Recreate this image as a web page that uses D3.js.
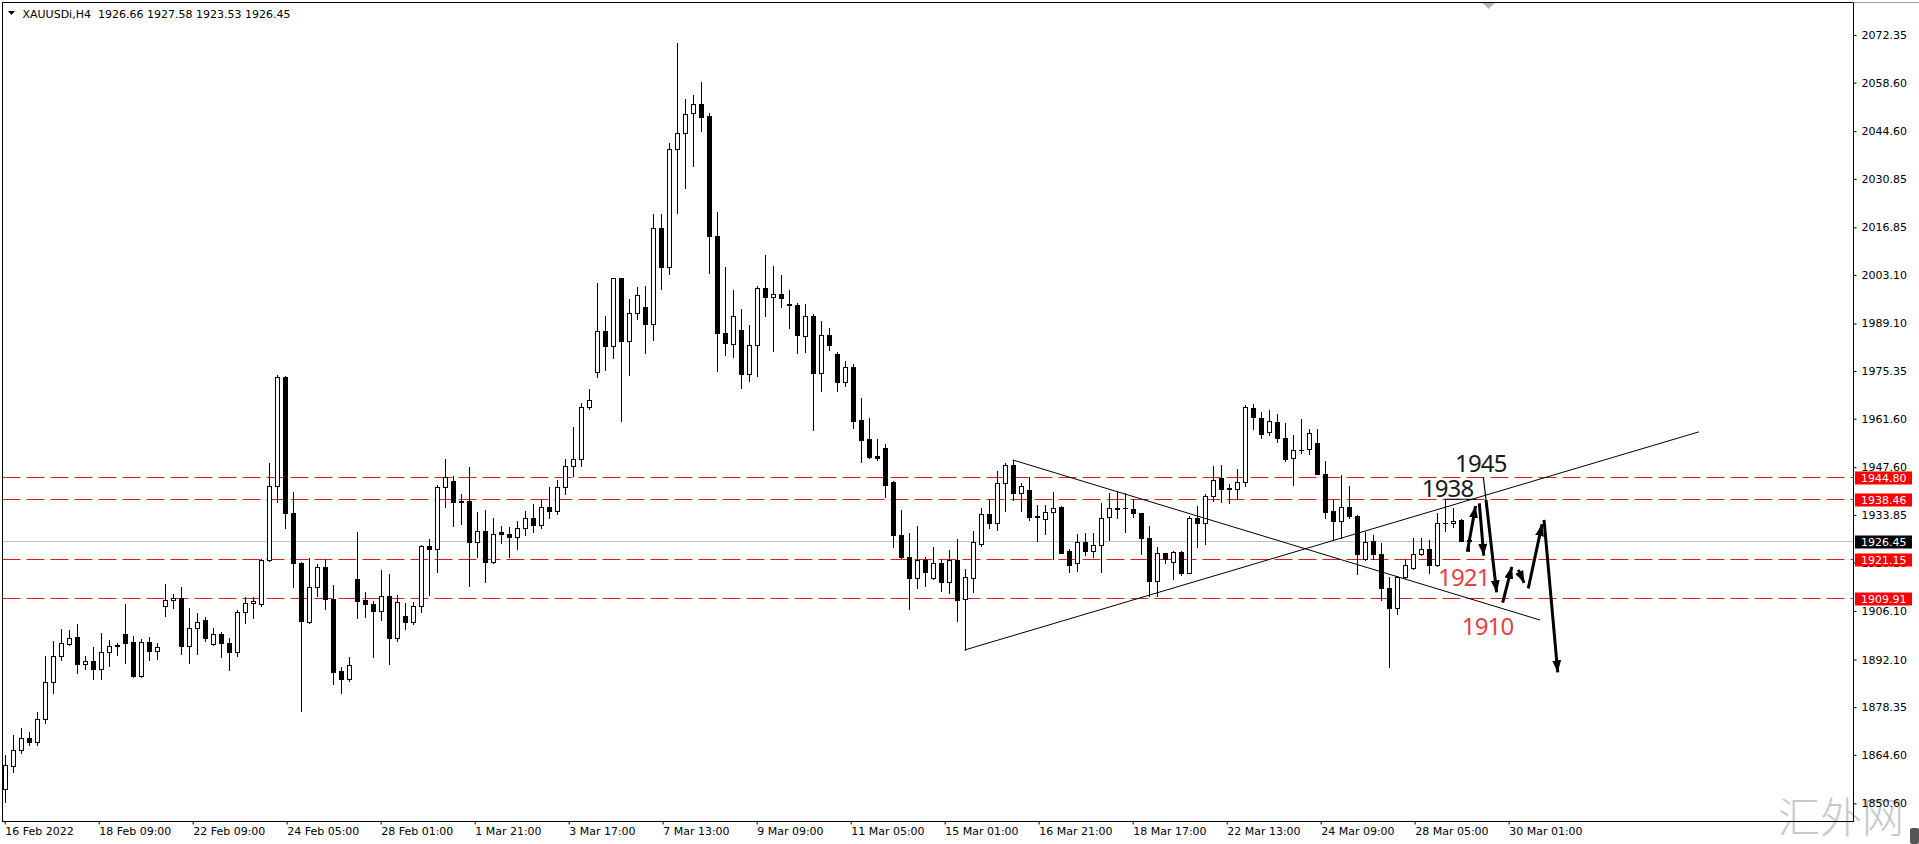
<!DOCTYPE html>
<html><head><meta charset="utf-8">
<script src="https://cdn.jsdelivr.net/npm/d3@7"></script>
<style>
html,body{margin:0;padding:0;background:#fff;overflow:hidden}
svg{display:block}
</style></head>
<body>
<svg id="chart" width="1919" height="844"></svg>
<script>
// ---------------- DATA ----------------
const symbolTitle = "XAUUSDi,H4";
const titleValues = [1926.66, 1927.58, 1923.53, 1926.45];

const barOpen = [1854.6,1861.5,1866.0,1869.4,1868.4,1874.8,1885.7,1893.1,1896.6,1898.7,
1890.7,1891.7,1889.3,1894.2,1896.3,1899.4,1897.1,1887.4,1897.1,1894.7,
1907.6,1909.3,1909.8,1896.1,1901.1,1903.5,1896.6,1899.4,1896.8,1894.4,
1905.9,1908.3,1908.0,1920.8,1942.1,1973.5,1934.3,1919.9,1902.8,1912.9,
1918.7,1909.7,1888.8,1886.4,1915.3,1909.3,1908.1,1906.2,1910.4,1898.4,
1904.7,1903.0,1907.5,1925.0,1923.9,1941.8,1943.6,1937.8,1937.8,1926.1,
1929.2,1920.2,1929.0,1928.3,1927.4,1930.0,1933.0,1931.0,1936.0,1935.0,
1942.0,1948.0,1950.0,1964.9,1975.2,1986.9,1982.7,2002.1,1984.1,1992.0,
1993.8,1988.8,2016.6,2005.5,2039.4,2044.0,2049.7,2052.4,2049.0,2014.3,
1986.2,1983.1,1987.2,1974.4,1982.9,1999.2,1996.6,1997.5,1994.6,1994.4,
1985.6,1991.3,1974.9,1985.8,1980.3,1972.3,1976.6,1961.2,1955.8,1950.7,
1953.1,1943.2,1927.9,1921.6,1915.7,1920.8,1915.7,1920.1,1914.6,1920.8,
1909.5,1915.7,1925.4,1934.0,1931.6,1943.0,1948.2,1940.3,1941.0,1933.4,
1932.6,1934.6,1936.2,1923.5,1919.9,1925.9,1923.5,1925.2,1933.1,1935.8,
1935.7,1935.5,1934.3,1927.1,1914.9,1922.7,1920.2,1923.0,1917.2,1933.0,
1931.6,1939.3,1944.6,1941.5,1941.2,1943.4,1964.6,1961.7,1957.9,1960.6,
1955.9,1950.2,1952.6,1952.8,1954.5,1945.5,1934.9,1932.1,1936.0,1933.5,
1921.1,1926.3,1922.6,1912.6,1906.9,1916.0,1918.4,1922.6,1923.9,1919.4,
1931.6,1931.4,1932.4,1926.66];
const barHigh = [1864.5,1870.3,1872.2,1871.3,1876.9,1893.1,1897.4,1900.8,1900.6,1902.3,
1893.1,1895.8,1899.7,1897.7,1897.0,1908.1,1898.9,1897.9,1898.5,1896.8,
1913.8,1910.9,1912.9,1906.9,1905.4,1904.5,1901.3,1900.1,1898.2,1906.4,
1910.2,1910.0,1921.0,1948.7,1974.2,1974.0,1940.4,1920.2,1921.3,1919.6,
1921.0,1913.6,1890.0,1892.7,1929.0,1911.7,1909.1,1917.9,1916.8,1910.7,
1908.3,1908.8,1925.2,1926.8,1942.5,1949.9,1945.2,1939.9,1947.8,1934.8,
1935.3,1933.0,1930.6,1930.4,1932.0,1935.0,1937.0,1938.0,1942.0,1944.0,
1950.0,1959.3,1966.2,1970.1,2000.7,1991.3,2002.1,2002.1,1996.1,1999.5,
1999.9,2020.7,2020.7,2041.1,2070.1,2053.9,2055.0,2058.9,2049.7,2021.4,
2005.3,1998.8,1993.2,1988.7,1999.9,2008.9,2005.8,2003.1,1998.8,1994.9,
1994.7,1991.8,1989.9,1987.7,1980.8,1978.3,1977.4,1967.5,1961.7,1955.8,
1954.3,1943.7,1935.3,1928.5,1930.6,1921.6,1924.7,1920.8,1923.7,1926.9,
1918.1,1929.2,1935.7,1938.2,1946.6,1948.9,1949.7,1943.0,1944.9,1936.7,
1936.7,1940.4,1936.4,1924.0,1928.3,1928.5,1928.5,1937.2,1940.1,1940.4,
1940.1,1938.4,1934.3,1930.6,1924.7,1922.7,1923.5,1923.5,1933.5,1936.4,
1939.9,1948.0,1948.2,1942.8,1947.0,1965.6,1965.8,1963.4,1964.1,1962.9,
1960.3,1956.9,1961.4,1958.5,1958.5,1949.4,1938.1,1945.4,1942.2,1933.8,
1929.0,1927.9,1925.6,1916.0,1916.2,1921.0,1927.1,1927.1,1926.6,1934.5,
1938.3,1935.7,1932.6,1927.58];
const barLow = [1851.1,1859.7,1865.0,1867.4,1867.4,1873.7,1882.3,1891.9,1896.3,1888.1,
1889.3,1886.4,1886.4,1890.2,1893.4,1891.2,1887.1,1887.1,1892.0,1892.2,
1904.8,1906.9,1893.6,1891.0,1893.6,1897.3,1896.3,1892.9,1889.1,1893.1,
1902.7,1904.2,1907.5,1920.5,1937.6,1930.2,1913.1,1877.3,1902.5,1910.5,
1906.7,1884.9,1882.5,1886.0,1904.0,1904.3,1892.9,1903.5,1890.7,1897.5,
1900.9,1902.3,1905.9,1910.7,1917.5,1936.2,1930.6,1931.2,1913.3,1921.6,
1914.6,1919.9,1925.8,1921.8,1924.0,1928.0,1929.0,1930.0,1933.0,1934.0,
1940.0,1945.0,1948.0,1964.3,1973.7,1975.7,1979.0,1960.8,1974.2,1990.5,
1980.7,1984.3,1999.0,2003.3,2020.9,2028.3,2034.6,2044.5,2003.8,1975.5,
1980.0,1979.3,1970.4,1972.6,1973.9,1991.3,1981.2,1993.7,1987.7,1980.7,
1981.0,1958.2,1969.7,1981.4,1969.7,1970.9,1959.0,1949.2,1950.2,1949.7,
1939.1,1924.5,1921.3,1906.7,1912.7,1913.4,1915.3,1912.0,1911.2,1903.3,
1894.9,1911.5,1924.9,1930.0,1929.5,1935.0,1938.1,1935.1,1932.4,1926.3,
1928.2,1921.1,1922.9,1917.5,1917.7,1922.3,1921.6,1917.5,1926.6,1932.9,
1929.0,1933.1,1922.6,1910.4,1910.4,1920.1,1915.3,1916.5,1917.2,1924.7,
1925.4,1937.9,1937.7,1937.2,1938.4,1942.2,1958.5,1955.9,1956.9,1955.0,
1949.4,1942.5,1951.8,1951.4,1945.5,1932.9,1926.6,1927.1,1932.9,1916.8,
1920.8,1921.0,1909.3,1889.9,1905.1,1915.5,1918.1,1922.3,1917.0,1919.1,
1929.3,1930.3,1926.2,1923.53];
const barClose = [1861.7,1866.0,1869.4,1868.4,1874.8,1885.7,1893.1,1896.8,1898.2,1890.7,
1891.7,1889.3,1894.2,1896.0,1895.9,1897.0,1887.4,1897.1,1894.7,1895.8,
1909.3,1909.8,1896.1,1901.1,1903.0,1898.2,1899.4,1896.8,1894.4,1905.9,
1908.3,1909.0,1920.8,1942.1,1973.5,1934.3,1919.9,1903.3,1912.9,1918.7,
1909.7,1888.6,1886.4,1890.5,1909.1,1908.1,1906.2,1910.4,1898.4,1908.6,
1903.0,1907.5,1925.0,1923.9,1941.8,1944.7,1937.7,1937.6,1926.1,1929.2,
1920.2,1928.3,1928.2,1927.4,1930.0,1933.0,1931.0,1936.0,1935.0,1942.0,
1948.0,1950.0,1964.9,1967.0,1986.9,1982.7,2002.1,1984.1,1992.0,1997.2,
1988.8,2016.6,2005.5,2039.4,2044.0,2049.5,2052.4,2048.8,2014.4,1986.2,
1983.4,1991.3,1974.4,1982.9,1999.2,1996.8,1997.5,1996.4,1994.3,1985.8,
1991.3,1974.7,1985.8,1982.9,1972.3,1976.6,1961.0,1955.5,1950.5,1950.4,
1942.5,1927.9,1921.6,1915.7,1920.8,1917.3,1920.1,1914.6,1920.8,1909.3,
1915.8,1925.9,1934.0,1931.6,1943.0,1948.2,1940.3,1942.2,1933.3,1933.2,
1934.6,1935.7,1922.9,1919.4,1925.9,1923.5,1925.2,1932.9,1935.7,1935.6,
1935.8,1934.3,1927.1,1914.9,1922.7,1921.1,1923.0,1917.0,1933.0,1931.4,
1939.3,1943.9,1941.2,1941.4,1943.4,1964.9,1962.0,1957.2,1960.8,1955.9,
1950.0,1952.6,1952.5,1957.6,1945.5,1934.6,1932.1,1936.0,1933.5,1922.6,
1926.1,1922.6,1912.6,1906.9,1916.0,1919.4,1922.6,1923.9,1919.4,1931.4,
1931.4,1932.2,1926.4,1926.45];

const timeLabels = ["16 Feb 2022","18 Feb 09:00","22 Feb 09:00","24 Feb 05:00","28 Feb 01:00",
"1 Mar 21:00","3 Mar 17:00","7 Mar 13:00","9 Mar 09:00","11 Mar 05:00","15 Mar 01:00",
"16 Mar 21:00","18 Mar 17:00","22 Mar 13:00","24 Mar 09:00","28 Mar 05:00","30 Mar 01:00"];
const barsPerTimeLabel = 11.75;

const priceTicks = [2072.35,2058.60,2044.60,2030.85,2016.85,2003.10,1989.10,1975.35,1961.60,
1947.60,1933.85,1920.10,1906.10,1892.10,1878.35,1864.60,1850.60];

const levelPrices = [1944.80, 1938.46, 1921.15, 1909.91];
const lastPrice = 1926.45;

// trendlines: [barIndex, price] pairs
const trendStart = [[126, 1949.7], [120, 1894.85]];
const trendEnd   = [[191.92, 1903.5], [211.77, 1957.8]];

// forecast arrows: [barIndex, price]
const arrowFrom = [[182.83,1923.22],[184.33,1937.18],[185.17,1938.14],[187.25,1908.5],[189.2,1917.94],[190.45,1912.65],[192.42,1932.37]];
const arrowTo   = [[184.0,1938.14],[184.95,1920.33],[186.58,1909.77],[188.58,1920.53],[190.25,1912.65],[192.33,1932.86],[194.2,1886.68]];
const thinFrom = [[184.83,1944.78],[180,1938.35]];
const thinTo   = [[185.17,1938.14],[184,1938.35]];

const noteText = ["1945","1938","1921","1910"];
const notePoint = [[181.29,1946.22],[177.13,1939.0],[179.17,1913.3],[182.13,1899.2]];
const noteIsRed = [false,false,true,true];

const watermarkText = "汇外网";

// ---------------- CHART ----------------
const W = 1919, H = 844;
const L = 2.5, T = 2.5, R = 1853.5, B = 821.5;
const svg = d3.select("#chart");
const FONT = "'DejaVu Sans', Verdana, sans-serif";

const x = d3.scaleLinear().domain([0, 230]).range([4.67, 1844.67]);
const y = d3.scaleLinear().domain([2072.35, 1850.60]).range([35, 803.3]);

svg.append("rect").attr("width", W).attr("height", H).attr("fill", "#fff");

// watermark (behind everything)
svg.append("text").attr("x", 1778).attr("y", 833).attr("font-family", "'Noto Sans CJK SC', sans-serif")
  .attr("font-weight", 300).attr("font-size", 42).attr("fill", "#c8c8c8").text(watermarkText);

const defs = svg.append("defs");
defs.append("clipPath").attr("id", "plotClip").append("rect")
  .attr("x", L).attr("y", T).attr("width", R - L).attr("height", B - T);
defs.append("marker").attr("id", "head").attr("markerUnits", "userSpaceOnUse")
  .attr("viewBox", "0 0 12 9").attr("refX", 12).attr("refY", 4.5)
  .attr("markerWidth", 12).attr("markerHeight", 9).attr("orient", "auto")
  .append("path").attr("d", "M0,0 L12,4.5 L0,9 Z").attr("fill", "#000");

const plot = svg.append("g").attr("clip-path", "url(#plotClip)");

// current price line
plot.append("line").attr("x1", L).attr("x2", R)
  .attr("y1", Math.round(y(lastPrice)) + 0.5).attr("y2", Math.round(y(lastPrice)) + 0.5)
  .attr("stroke", "#c0c0c0").attr("stroke-width", 1);

// horizontal levels
plot.append("g").selectAll("line").data(levelPrices).join("line")
  .attr("x1", L).attr("x2", R)
  .attr("y1", d => Math.round(y(d)) + 0.5).attr("y2", d => Math.round(y(d)) + 0.5)
  .attr("stroke", "#d81e1e").attr("stroke-width", 1).attr("stroke-dasharray", "18,6");

// candles
const bars = barOpen.map((o, i) => ({ i, o, h: barHigh[i], l: barLow[i], c: barClose[i] }));
const cg = plot.append("g").attr("shape-rendering", "crispEdges");
cg.selectAll("line.wick").data(bars).join("line").attr("class", "wick")
  .attr("x1", d => Math.round(x(d.i)) + 0.5).attr("x2", d => Math.round(x(d.i)) + 0.5)
  .attr("y1", d => Math.round(y(d.h))).attr("y2", d => Math.round(y(d.l)) + 1)
  .attr("stroke", "#000");
const bodyTop = d => Math.round(y(Math.max(d.o, d.c)));
const bodyBot = d => Math.round(y(Math.min(d.o, d.c)));
cg.selectAll("rect.body").data(bars.filter(d => bodyBot(d) - bodyTop(d) >= 1)).join("rect").attr("class", "body")
  .attr("x", d => Math.round(x(d.i)) - 1.5).attr("width", 4)
  .attr("y", d => bodyTop(d) + 0.5).attr("height", d => bodyBot(d) - bodyTop(d))
  .attr("fill", d => d.c >= d.o ? "#fff" : "#000").attr("stroke", "#000");
cg.selectAll("line.doji").data(bars.filter(d => bodyBot(d) - bodyTop(d) < 1)).join("line").attr("class", "doji")
  .attr("x1", d => Math.round(x(d.i)) - 2).attr("x2", d => Math.round(x(d.i)) + 3)
  .attr("y1", d => bodyTop(d) + 0.5).attr("y2", d => bodyTop(d) + 0.5)
  .attr("stroke", "#000");

// trendlines
plot.append("g").selectAll("line").data(trendStart).join("line")
  .attr("x1", d => x(d[0])).attr("y1", d => y(d[1]))
  .attr("x2", (d, i) => x(trendEnd[i][0])).attr("y2", (d, i) => y(trendEnd[i][1]))
  .attr("stroke", "#000").attr("stroke-width", 1);

// thin connectors
plot.append("g").selectAll("line").data(thinFrom).join("line")
  .attr("x1", d => x(d[0])).attr("y1", d => y(d[1]))
  .attr("x2", (d, i) => x(thinTo[i][0])).attr("y2", (d, i) => y(thinTo[i][1]))
  .attr("stroke", "#000").attr("stroke-width", 1.2);

// arrows
const shorten = (i, k) => {
  const x1 = x(arrowFrom[i][0]), y1 = y(arrowFrom[i][1]), x2 = x(arrowTo[i][0]), y2 = y(arrowTo[i][1]);
  const len = Math.hypot(x2 - x1, y2 - y1);
  return k === 0 ? x2 - (x2 - x1) / len * 6 : y2 - (y2 - y1) / len * 6;
};
plot.append("g").selectAll("line").data(arrowFrom).join("line")
  .attr("x1", d => x(d[0])).attr("y1", d => y(d[1]))
  .attr("x2", (d, i) => shorten(i, 0)).attr("y2", (d, i) => shorten(i, 1))
  .attr("stroke", "#000").attr("stroke-width", 3).attr("marker-end", "url(#head)");

// notes
plot.append("g").selectAll("text").data(noteText).join("text")
  .attr("x", (d, i) => x(notePoint[i][0])).attr("y", (d, i) => y(notePoint[i][1]))
  .attr("font-family", "'Noto Sans', 'Open Sans', sans-serif").attr("font-size", 24)
  .attr("letter-spacing", "-0.8px")
  .attr("fill", (d, i) => noteIsRed[i] ? "#e8413f" : "#1a1a1a")
  .text(d => d);

// frame
svg.append("rect").attr("x", L).attr("y", T).attr("width", R - L).attr("height", B - T)
  .attr("fill", "none").attr("stroke", "#000").attr("stroke-width", 1);
svg.append("line").attr("x1", R).attr("x2", W).attr("y1", T).attr("y2", T).attr("stroke", "#9a9a9a");

// shift marker
svg.append("path").attr("d", `M${x(185.5) - 6},3 L${x(185.5) + 6},3 L${x(185.5)},9 Z`).attr("fill", "#b4b4b4");

// right price axis
const yAxis = d3.axisRight(y).tickValues(priceTicks).tickSize(3).tickPadding(5).tickFormat(d3.format(".2f"));
const ya = svg.append("g").attr("transform", `translate(${R},0)`).call(yAxis);
ya.select(".domain").remove();
ya.selectAll("text").attr("font-family", FONT).attr("font-size", 11).attr("fill", "#000");
ya.selectAll("line").attr("stroke", "#000");

// level price labels
const tagG = svg.append("g");
const tagData = levelPrices.map(p => ({ p, bg: "#ff0000" })).concat([{ p: lastPrice, bg: "#000" }]);
tagG.selectAll("rect").data(tagData).join("rect")
  .attr("x", R + 1.5).attr("width", 57).attr("y", d => Math.round(y(d.p)) - 5.5).attr("height", 13)
  .attr("fill", d => d.bg);
tagG.selectAll("text").data(tagData).join("text")
  .attr("x", R + 7.5).attr("y", d => Math.round(y(d.p)) + 5)
  .attr("font-family", FONT).attr("font-size", 11).attr("fill", "#fff")
  .text(d => d3.format(".2f")(d.p));

// bottom time axis
const xAxis = d3.axisBottom(x).tickValues(timeLabels.map((d, k) => k * barsPerTimeLabel))
  .tickSize(3).tickPadding(3).tickFormat((d, k) => timeLabels[k]);
const xa = svg.append("g").attr("transform", `translate(0,${B})`).call(xAxis);
xa.select(".domain").remove();
xa.selectAll("text").attr("text-anchor", "start").attr("font-family", FONT).attr("font-size", 11).attr("fill", "#000");
xa.selectAll("line").attr("stroke", "#000");

// title
svg.append("path").attr("d", "M8,11 L15,11 L11.5,15 Z").attr("fill", "#000");
svg.append("text").attr("x", 22.5).attr("y", 18).attr("font-family", FONT).attr("font-size", 11).attr("fill", "#000").text(symbolTitle);
svg.append("text").attr("x", 98).attr("y", 18).attr("font-family", FONT).attr("font-size", 11).attr("fill", "#000")
  .text(titleValues.map(d3.format(".2f")).join(" "));

svg.append("rect").attr("x", 1910).attr("y", 828).attr("width", 9).attr("height", 16).attr("rx", 2).attr("fill", "#555");
</script>
</body></html>
